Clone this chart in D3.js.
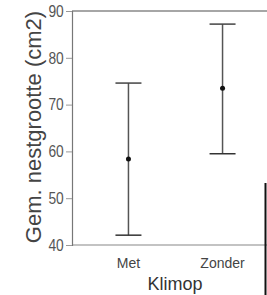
<!DOCTYPE html>
<html>
<head>
<meta charset="utf-8">
<script src="https://cdn.jsdelivr.net/npm/d3@7"></script>
<style>
  body { margin: 0; background: #fff; }
  svg { display: block; font-family: "Liberation Sans", Arial, sans-serif; }
</style>
</head>
<body>
<svg width="267" height="295"></svg>
<script>
const categories = ["Met", "Zonder"];
const means = [58.4, 73.5];
const lower = [42.1, 59.5];
const upper = [74.6, 87.2];
const yTicks = [40, 50, 60, 70, 80, 90];

const svg = d3.select("svg");

const x = d3.scalePoint().domain(categories).range([72, 279]).padding(0.6);
const y = d3.scaleLinear().domain([40, 90]).range([245, 11]);

// box lines: top + bottom
svg.append("line").attr("x1", 72).attr("x2", 267).attr("y1", y(90)).attr("y2", y(90))
  .attr("stroke", "#888").attr("stroke-width", 1.5);
svg.append("line").attr("x1", 72).attr("x2", 267).attr("y1", y(40)).attr("y2", y(40))
  .attr("stroke", "#888").attr("stroke-width", 1.2);

// y axis
const yAxis = svg.append("g").attr("transform", "translate(72,0)")
  .call(d3.axisLeft(y).tickValues(yTicks).tickSize(6).tickPadding(3));
yAxis.select(".domain").attr("stroke", "#777").attr("stroke-width", 1.2);
yAxis.selectAll(".tick line").attr("stroke", "#999");
yAxis.selectAll(".tick text").attr("fill", "#555").style("font-size", "15px")
  .attr("transform", "scale(0.92,1.12)");

// x labels
svg.append("g").selectAll("text").data(categories).join("text")
  .attr("x", d => x(d)).attr("y", 268)
  .attr("text-anchor", "middle").attr("fill", "#444")
  .style("font-size", "14px").text(d => d);

// titles
svg.append("text").attr("x", 175).attr("y", 290).attr("text-anchor", "middle")
  .attr("fill", "#333").style("font-size", "18px").text("Klimop");
svg.append("text").attr("transform", "translate(41,127) rotate(-90)")
  .attr("text-anchor", "middle").attr("fill", "#444")
  .style("font-size", "22px").text("Gem. nestgrootte (cm2)");

// error bars
const bars = svg.append("g").selectAll("g").data(categories).join("g");
bars.append("line")
  .attr("x1", d => x(d)).attr("x2", d => x(d))
  .attr("y1", (d, i) => y(upper[i])).attr("y2", (d, i) => y(lower[i]))
  .attr("stroke", "#555").attr("stroke-width", 1.5);
bars.append("line")
  .attr("x1", d => x(d) - 13).attr("x2", d => x(d) + 13)
  .attr("y1", (d, i) => y(upper[i])).attr("y2", (d, i) => y(upper[i]))
  .attr("stroke", "#444").attr("stroke-width", 1.5);
bars.append("line")
  .attr("x1", d => x(d) - 13).attr("x2", d => x(d) + 13)
  .attr("y1", (d, i) => y(lower[i])).attr("y2", (d, i) => y(lower[i]))
  .attr("stroke", "#333").attr("stroke-width", 1.5);
bars.append("circle")
  .attr("cx", d => x(d)).attr("cy", (d, i) => y(means[i])).attr("r", 2.5)
  .attr("fill", "#111");

// dark edge of neighbouring image at the right
svg.append("line").attr("x1", 265.5).attr("x2", 265.5).attr("y1", 183).attr("y2", 295)
  .attr("stroke", "#111").attr("stroke-width", 2);
</script>
</body>
</html>
